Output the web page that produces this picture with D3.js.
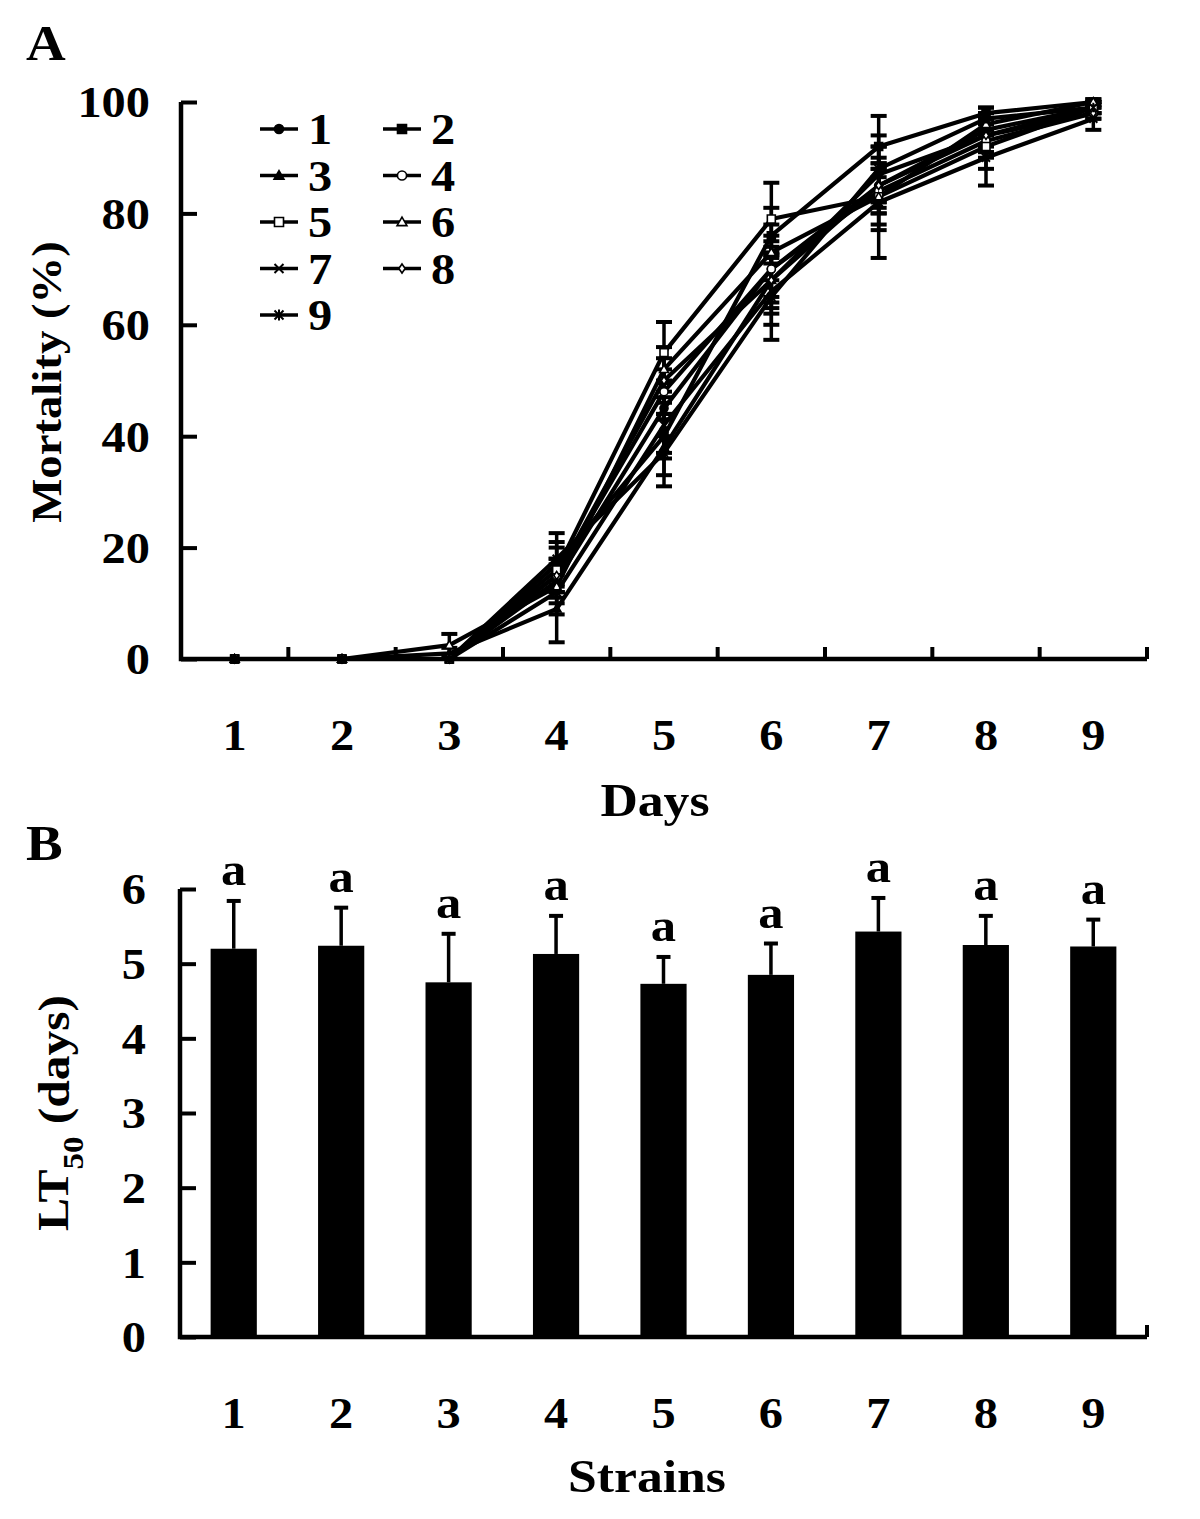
<!DOCTYPE html>
<html>
<head>
<meta charset="utf-8">
<script src="https://cdn.jsdelivr.net/npm/d3@7"></script>
<style>
  html, body { margin: 0; padding: 0; background: #fff; }
  svg text { font-family: "Liberation Serif", "Times New Roman", serif; font-weight: bold; fill: #000; }
</style>
</head>
<body>
<svg id="chart" width="1200" height="1519"></svg>
<script>
// ---------- DATA ----------
const days = ["1", "2", "3", "4", "5", "6", "7", "8", "9"];
const strains = ["1", "2", "3", "4", "5", "6", "7", "8", "9"];
const mortalityTicks = [0, 20, 40, 60, 80, 100];
const lt50Ticks = [0, 1, 2, 3, 4, 5, 6];

// mortality (%) per strain, days 1..9
const s1 = [0, 0, 0, 14, 45, 70, 85, 95, 99];
const s2 = [0, 0, 0, 17, 40, 76, 92, 98, 100];
const s3 = [0, 0, 1, 9, 38, 68, 87, 94, 99];
const s4 = [0, 0, 0, 15, 48, 70, 84, 93, 98];
const s5 = [0, 0, 0, 16, 55, 79, 83, 92, 99];
const s6 = [0, 0, 2.5, 13, 52, 73, 83, 96, 100];
const s7 = [0, 0, 0, 12, 42, 66, 82, 90, 97];
const s8 = [0, 0, 0, 15, 50, 68, 85, 94, 98];
const s9 = [0, 0, 0, 18, 37, 65, 88, 97, 99];
// standard deviations
const e1 = [0, 0, 0, 3, 5, 6, 5, 3, 1];
const e2 = [0, 0, 0, 4, 4, 5, 5.5, 1, 0.5];
const e3 = [0, 0, 1, 6, 5, 6, 5, 3, 1];
const e4 = [0, 0, 0, 3, 4, 5, 4, 3, 1];
const e5 = [0, 0, 0, 4, 5.5, 6.5, 5, 4, 1];
const e6 = [0, 0, 2, 3, 4, 5, 6, 2, 0.5];
const e7 = [0, 0, 0, 4, 5, 6, 10, 5, 2];
const e8 = [0, 0, 0, 3, 4, 5, 4, 3, 1];
const e9 = [0, 0, 0, 4.6, 6, 7.7, 6, 2, 1];

const seriesNames = ["1", "2", "3", "4", "5", "6", "7", "8", "9"];
const seriesValues = [s1, s2, s3, s4, s5, s6, s7, s8, s9];
const seriesErrors = [e1, e2, e3, e4, e5, e6, e7, e8, e9];
const seriesMarkers = ["circleF", "squareF", "triF", "circleO", "squareO", "triO", "cross", "diamondO", "star"];

// LT50 (days) per strain
const lt50 = [5.20, 5.24, 4.75, 5.13, 4.73, 4.85, 5.43, 5.25, 5.23];
const lt50Err = [0.64, 0.51, 0.65, 0.51, 0.36, 0.42, 0.45, 0.39, 0.36];
const lt50Letters = ["a", "a", "a", "a", "a", "a", "a", "a", "a"];

// ---------- DRAW ----------
const svg = d3.select("#chart");
const FS = 44, TS = 47, SX = 1.1;

function txt(g, x, y, str, size, anchor, rot) {
  const t = g.append("text")
    .attr("transform", `translate(${x},${y})` + (rot ? ` rotate(${rot})` : "") + ` scale(${SX},1)`)
    .attr("text-anchor", anchor || "middle")
    .attr("dy", "0.35em")
    .attr("font-size", size);
  if (str !== null) t.text(str);
  return t;
}

function markerPath(type, size) {
  const r = size / 2;
  switch (type) {
    case "circleF": case "circleO": return d3.symbol(d3.symbolCircle, size * size * 0.8)();
    case "squareF": case "squareO": return `M${-r},${-r}H${r}V${r}H${-r}Z`;
    case "triF": case "triO": return `M0,${-r * 1.1}L${r * 1.1},${r * 0.8}L${-r * 1.1},${r * 0.8}Z`;
    case "diamondO": return `M0,${-r}L${r * 0.7},0L0,${r}L${-r * 0.7},0Z`;
    case "cross": return `M${-r},${-r}L${r},${r}M${-r},${r}L${r},${-r}`;
    case "star": return `M${-r},${-r}L${r},${r}M${-r},${r}L${r},${-r}M0,${-r * 1.2}V${r * 1.2}`;
  }
}
function drawMarker(g, type, x, y, size) {
  const open = !type.endsWith("F");
  const lineOnly = type === "cross" || type === "star";
  g.append("path")
    .attr("d", markerPath(type, size))
    .attr("transform", `translate(${x},${y})`)
    .attr("fill", lineOnly ? "none" : (open ? "#fff" : "#000"))
    .attr("stroke", "#000")
    .attr("stroke-width", lineOnly ? 2 : 1.6);
}

// ----- Panel A -----
const axL = 181, axR = 1147;
const yA = d3.scaleLinear().domain([0, 100]).range([659, 102]);
const xA = d3.scalePoint().domain(days).range([axL, axR]).padding(0.5);
const stepA = xA.step();

const gA = svg.append("g");
gA.append("g")
  .attr("transform", `translate(${axL},0)`)
  .call(d3.axisRight(yA).tickValues(mortalityTicks).tickSize(16).tickFormat(""))
  .call(g => g.select(".domain").remove())
  .call(g => g.selectAll("line").attr("stroke", "#000").attr("stroke-width", 4));
mortalityTicks.forEach(d => txt(gA, 150, yA(d), String(d), FS, "end"));

const boundsA = d3.range(1, days.length + 1).map(i => axL + i * stepA);
gA.selectAll(".xtA").data(boundsA).join("line")
  .attr("x1", d => d).attr("x2", d => d).attr("y1", yA(0)).attr("y2", yA(0) - 12)
  .attr("stroke", "#000").attr("stroke-width", 4);
days.forEach(d => txt(gA, xA(d), 735, d, FS, "middle"));

// error bars
const lineGen = d3.line().x((d, i) => xA(days[i])).y(d => yA(d));
seriesValues.forEach((vals, si) => {
  const errs = seriesErrors[si];
  const g = gA.append("g");
  vals.forEach((v, i) => {
    if (errs[i] > 0) {
      const x = xA(days[i]);
      const y1 = yA(v + errs[i]), y0 = yA(Math.max(0, v - errs[i]));
      g.append("line").attr("x1", x).attr("x2", x).attr("y1", y1).attr("y2", y0)
        .attr("stroke", "#000").attr("stroke-width", 3.5);
      [y1, y0].forEach(yy => g.append("line").attr("x1", x - 8).attr("x2", x + 8)
        .attr("y1", yy).attr("y2", yy).attr("stroke", "#000").attr("stroke-width", 4));
    }
  });
});
seriesValues.forEach(vals => {
  gA.append("path").datum(vals).attr("d", lineGen)
    .attr("fill", "none").attr("stroke", "#000").attr("stroke-width", 4.2)
    .attr("stroke-linejoin", "round");
});
seriesValues.forEach((vals, si) => {
  vals.forEach((v, i) => drawMarker(gA, seriesMarkers[si], xA(days[i]), yA(v), 8));
});

gA.append("path").attr("d", `M${axL},${yA(100)}V${yA(0)}H${axR}`)
  .attr("fill", "none").attr("stroke", "#000").attr("stroke-width", 4.5);

// legend
const legX = [260, 383], legY0 = 129, legDy = 46.5;
seriesNames.forEach((nm, i) => {
  const col = i % 2, row = Math.floor(i / 2);
  const x = legX[col], y = legY0 + row * legDy;
  gA.append("line").attr("x1", x).attr("x2", x + 38).attr("y1", y).attr("y2", y)
    .attr("stroke", "#000").attr("stroke-width", 3.5);
  drawMarker(gA, seriesMarkers[i], x + 19, y, 9);
  txt(gA, x + 48, y, nm, 44, "start");
});

// titles
txt(gA, 46, 382, "Mortality (%)", 42.5, "middle", -90);
txt(gA, 655, 800, "Days", TS, "middle");
txt(svg, 26, 42, "A", 50, "start");

// ----- Panel B -----
const bL = 180, bR = 1147;
const yB = d3.scaleLinear().domain([0, 6]).range([1337, 889]);
const xB = d3.scaleBand().domain(strains).range([bL, bR]).paddingInner(0.57).paddingOuter(0.285);
const gB = svg.append("g");

gB.append("g")
  .attr("transform", `translate(${bL},0)`)
  .call(d3.axisRight(yB).tickValues(lt50Ticks).tickSize(16).tickFormat(""))
  .call(g => g.select(".domain").remove())
  .call(g => g.selectAll("line").attr("stroke", "#000").attr("stroke-width", 4));
lt50Ticks.forEach(d => txt(gB, 146, yB(d), String(d), FS, "end"));

gB.selectAll(".bar").data(strains).join("rect")
  .attr("x", d => xB(d)).attr("width", xB.bandwidth())
  .attr("y", (d, i) => yB(lt50[i])).attr("height", (d, i) => yB(0) - yB(lt50[i]))
  .attr("fill", "#000");
strains.forEach((s, i) => {
  const cx = xB(s) + xB.bandwidth() / 2;
  const yt = yB(lt50[i] + lt50Err[i]);
  gB.append("line").attr("x1", cx).attr("x2", cx).attr("y1", yt).attr("y2", yB(lt50[i]))
    .attr("stroke", "#000").attr("stroke-width", 3.5);
  gB.append("line").attr("x1", cx - 7).attr("x2", cx + 7).attr("y1", yt).attr("y2", yt)
    .attr("stroke", "#000").attr("stroke-width", 4);
  txt(gB, cx, yt - 32, lt50Letters[i], 46, "middle");
});

gB.append("line").attr("x1", bR).attr("x2", bR).attr("y1", yB(0)).attr("y2", yB(0) - 12)
  .attr("stroke", "#000").attr("stroke-width", 4);
strains.forEach(s => txt(gB, xB(s) + xB.bandwidth() / 2, 1413, s, FS, "middle"));

gB.append("path").attr("d", `M${bL},${yB(6)}V${yB(0)}H${bR}`)
  .attr("fill", "none").attr("stroke", "#000").attr("stroke-width", 4.5);

// titles
const lt = txt(gB, 52, 1113, null, 45, "middle", -90);
lt.append("tspan").text("LT");
lt.append("tspan").attr("font-size", 30).attr("dy", "0.5em").text("50");
lt.append("tspan").attr("dy", "-0.3em").text(" (days)");
txt(gB, 647, 1476, "Strains", TS, "middle");
txt(svg, 26, 842, "B", 50, "start");
</script>
</body>
</html>
